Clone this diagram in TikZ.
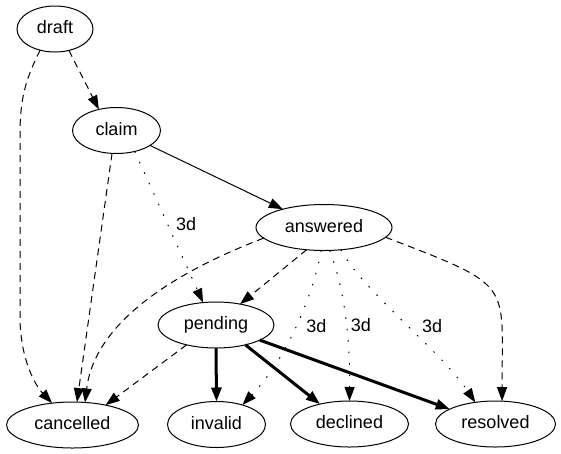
\documentclass[tikz,border=0pt]{standalone}
\usepackage{fontspec}
\setmainfont{Liberation Sans}
\usetikzlibrary{shapes.geometric, arrows.meta}

\begin{document}
\begin{tikzpicture}[x=1pt, y=-1pt,
    status/.style = {ellipse, draw, line width=1pt,
        minimum height=46pt, inner sep=0pt, outer sep=0pt,
        text height=13pt, text depth=4pt,
        font=\fontsize{18}{20}\selectfont},
    link/.style = {line width=1pt, -{Triangle[length=14pt,width=10pt]}},
    manual/.style = {link, dash pattern=on 7pt off 5pt},
    timer/.style = {link, dash pattern=on 1.5pt off 10pt},
    decision/.style = {link, line width=3pt},
    delay/.style = {font=\fontsize{18}{20}\selectfont, inner sep=1pt}]

\useasboundingbox (0,0) rectangle (561,453);

% States
\node[status, minimum width=76pt]  (draft)     at (55,29)     {draft};
\node[status, minimum width=88pt]  (claim)     at (116.5,130.5) {claim};
\node[status, minimum width=136pt] (answered)  at (324,227.5) {answered};
\node[status, minimum width=116pt] (pending)   at (216,325)   {pending};
\node[status, minimum width=132pt] (cancelled) at (72.5,425)  {cancelled};
\node[status, minimum width=98pt]  (invalid)   at (216.5,424.5) {invalid};
\node[status, minimum width=118pt] (declined)  at (349.5,424) {declined};
\node[status, minimum width=120pt] (resolved)  at (495.5,424) {resolved};

% From draft and claim
\draw[manual] (draft.-57) -- (claim.130);
\draw[manual] (draft.235) .. controls (25,80) and (20,100) .. (20,135)
    -- (20,320) .. controls (21,360) and (35,385) .. (cancelled.133);
\draw[link] (claim.-24) -- (answered.156);
\draw[manual] (claim.-101) -- (cancelled.79);
\draw[timer] (claim.-49) -- node[delay, pos=0.48, right=7pt] {3d} (pending.120);

% From answered
\draw[manual] (answered.190) .. controls (180,270) and (95,320) .. (cancelled.61);
\draw[manual] (answered.232) -- (pending.41);
\draw[timer] (answered.-97) .. controls (312,300) and (285,360) ..
    node[delay, pos=0.48, right=9pt] {3d} (invalid.37.5);
\draw[timer] (answered.-76) .. controls (345,290) and (350,340) ..
    node[delay, pos=0.55, right=3pt] {3d} (declined.90);
\draw[timer] (answered.-53) .. controls (362,290) and (440,350) ..
    node[delay, pos=0.53, right=13pt] {3d} (resolved.133.5);
\draw[manual] (answered.-9.5) .. controls (515,287) and (502,281) .. (resolved.74);

% From pending
\draw[manual] (pending.214.5) -- (cancelled.31.6);
\draw[decision] (pending.-90) -- (invalid.90);
\draw[decision] (pending.-34.5) -- (declined.146);
\draw[decision] (pending.-19) -- (resolved.162);
\end{tikzpicture}
\end{document}
